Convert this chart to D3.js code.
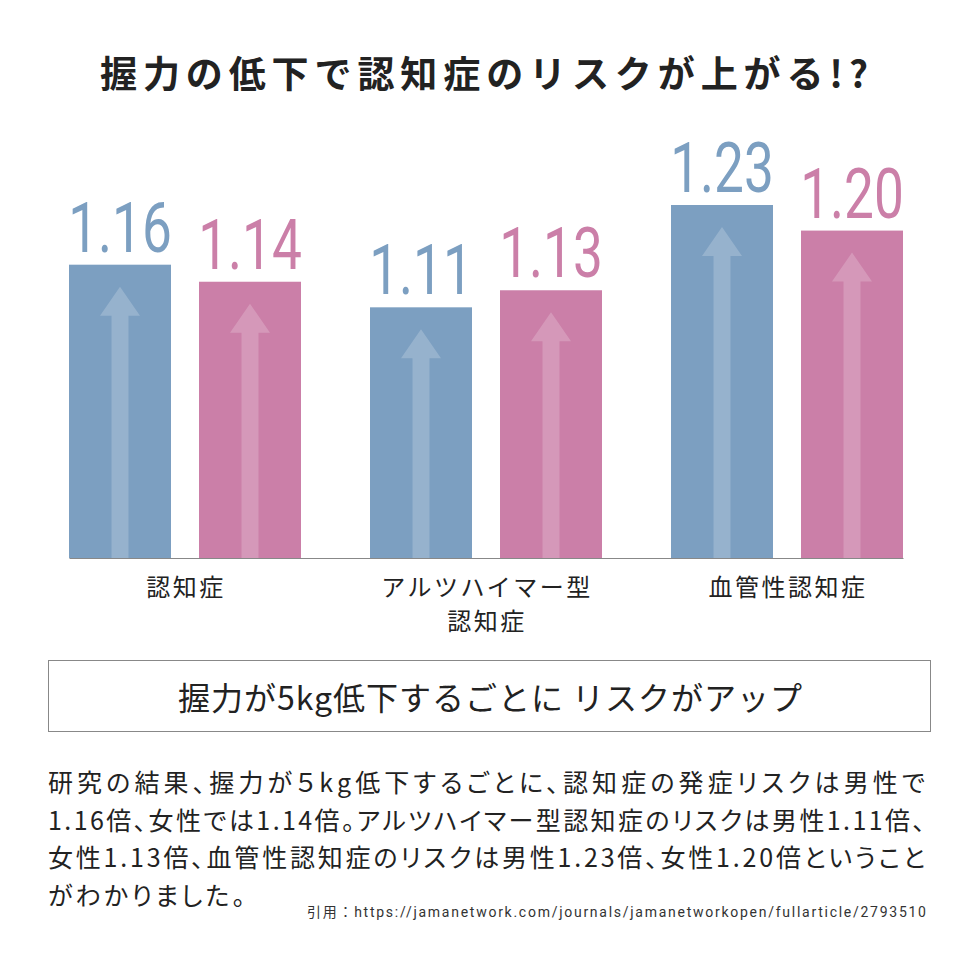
<!DOCTYPE html>
<html lang="ja">
<head>
<meta charset="utf-8">
<script src="https://cdn.jsdelivr.net/npm/d3@7.9.0/dist/d3.min.js"></script>
<style>
  html, body { margin: 0; padding: 0; background: #fff; }
  svg { display: block; }
  .jp { font-family: "Noto Sans CJK JP", "Noto Sans", sans-serif; fill: #222; }
  .palt { font-feature-settings: "palt" 1; }
</style>
</head>
<body>
<svg id="chart" width="980" height="980"></svg>
<script>
// --- data ---
const categories = ['認知症', 'アルツハイマー型\n認知症', '血管性認知症'];
const series = ['男性', '女性'];
const maleValues = [1.16, 1.11, 1.23];
const femaleValues = [1.14, 1.13, 1.20];
const seriesColors = ['#7c9fc1', '#cb7fa8'];

const titleText = '握力の低下で認知症のリスクが上がる!?';
const boxText = '握力が5kg低下するごとに リスクがアップ';
const bodyLines = [
  '研究の結果、握力が５kg低下するごとに、認知症の発症リスクは男性で',
  '1.16倍、女性では1.14倍。アルツハイマー型認知症のリスクは男性1.11倍、',
  '女性1.13倍、血管性認知症のリスクは男性1.23倍、女性1.20倍ということ',
  'がわかりました。'
];
const bodyWidths = [877, 877, 877, 197];
const sourceText = '引用：https://jamanetwork.com/journals/jamanetworkopen/fullarticle/2793510';

const rows = categories.map((c, i) => ({
  category: c,
  values: [maleValues[i], femaleValues[i]]
}));

const svg = d3.select('#chart');
const baseline = 558;

// title
svg.append('text')
  .attr('class', 'jp')
  .attr('x', 100)
  .attr('y', 72)
  .attr('dominant-baseline', 'central')
  .attr('font-size', 37)
  .attr('font-weight', 700)
  .attr('fill', '#2a2a2a')
  .attr('textLength', 768)
  .attr('lengthAdjust', 'spacing')
  .text(titleText);

// scales
const x0 = d3.scaleBand()
  .domain(categories)
  .range([69, 903])
  .paddingInner(69 / 301)
  .paddingOuter(0);

const x1 = d3.scaleBand()
  .domain(series)
  .range([0, x0.bandwidth()])
  .paddingInner(28 / 130)
  .paddingOuter(0);

const y = d3.scaleLinear()
  .domain([0.816, 1.23])
  .range([baseline, 205]);

const fmt = d3.format('.2f');

// bars
const groups = svg.append('g')
  .selectAll('g')
  .data(rows)
  .join('g')
  .attr('transform', (d) => `translate(${x0(d.category)},0)`);

const bars = groups.selectAll('g.bar')
  .data((d) => d.values.map((v, i) => ({ key: series[i], value: v, idx: i })))
  .join('g')
  .attr('class', 'bar')
  .attr('transform', (d) => `translate(${x1(d.key)},0)`);

bars.append('rect')
  .attr('x', 0)
  .attr('y', (d) => y(d.value))
  .attr('width', x1.bandwidth())
  .attr('height', (d) => baseline - y(d.value))
  .attr('fill', (d) => seriesColors[d.idx]);

// light arrow inside each bar
const shaftW = 17, headW = 40, headH = 29, tipGap = 22;
bars.append('path')
  .attr('fill', '#fff')
  .attr('fill-opacity', 0.2)
  .attr('d', (d) => {
    const cx = x1.bandwidth() / 2;
    const tip = y(d.value) + tipGap;
    const base = tip + headH;
    return `M${cx},${tip}L${cx + headW / 2},${base}L${cx + shaftW / 2},${base}` +
      `L${cx + shaftW / 2},${baseline}L${cx - shaftW / 2},${baseline}` +
      `L${cx - shaftW / 2},${base}L${cx - headW / 2},${base}Z`;
  });

// value labels
bars.append('text')
  .attr('transform', (d) => `translate(${x1.bandwidth() / 2},${y(d.value) - 13}) scale(0.76,1)`)
  .attr('text-anchor', 'middle')
  .attr('font-family', 'Roboto, "DejaVu Sans", sans-serif')
  .attr('font-size', 70)
  .attr('font-weight', 400)
  .attr('fill', (d) => seriesColors[d.idx])
  .text((d) => fmt(d.value));

// axis
const axis = svg.append('g')
  .attr('transform', `translate(0,${baseline})`)
  .call(d3.axisBottom(x0).tickSize(0).tickSizeOuter(0).tickFormat(''));
axis.select('.domain').attr('stroke', '#888').attr('stroke-width', 1);

// category labels
const catLabels = svg.append('g')
  .selectAll('text')
  .data(categories)
  .join('text')
  .attr('class', 'jp')
  .attr('text-anchor', 'middle')
  .attr('font-size', 24)
  .attr('letter-spacing', 2.5)
  .attr('dominant-baseline', 'central');

catLabels.selectAll('tspan')
  .data((d) => d.split('\n').map((t) => ({ t, c: d })))
  .join('tspan')
  .attr('x', (d) => x0(d.c) + x0.bandwidth() / 2 + 1)
  .attr('y', (d, i) => 585 + i * 34)
  .text((d) => d.t);

// box
svg.append('rect')
  .attr('x', 48.5)
  .attr('y', 660.5)
  .attr('width', 882)
  .attr('height', 71)
  .attr('fill', 'none')
  .attr('stroke', '#888')
  .attr('stroke-width', 1);

svg.append('text')
  .attr('class', 'jp')
  .attr('x', 178)
  .attr('y', 696)
  .attr('dominant-baseline', 'central')
  .attr('font-size', 32)
  .attr('textLength', 624)
  .attr('lengthAdjust', 'spacing')
  .text(boxText);

// body paragraph
svg.append('g')
  .selectAll('text')
  .data(bodyLines)
  .join('text')
  .attr('class', 'jp palt')
  .attr('x', 48)
  .attr('y', (d, i) => 781 + i * 37.5)
  .attr('dominant-baseline', 'central')
  .attr('font-size', 25)
  .attr('textLength', (d, i) => bodyWidths[i])
  .attr('lengthAdjust', 'spacing')
  .text((d) => d);

// source
svg.append('text')
  .attr('x', 307)
  .attr('y', 912)
  .attr('dominant-baseline', 'central')
  .attr('font-family', 'Roboto, "Noto Sans CJK JP", sans-serif')
  .attr('font-size', 14)
  .attr('fill', '#333')
  .attr('textLength', 619)
  .attr('lengthAdjust', 'spacing')
  .text(sourceText);
</script>
</body>
</html>
